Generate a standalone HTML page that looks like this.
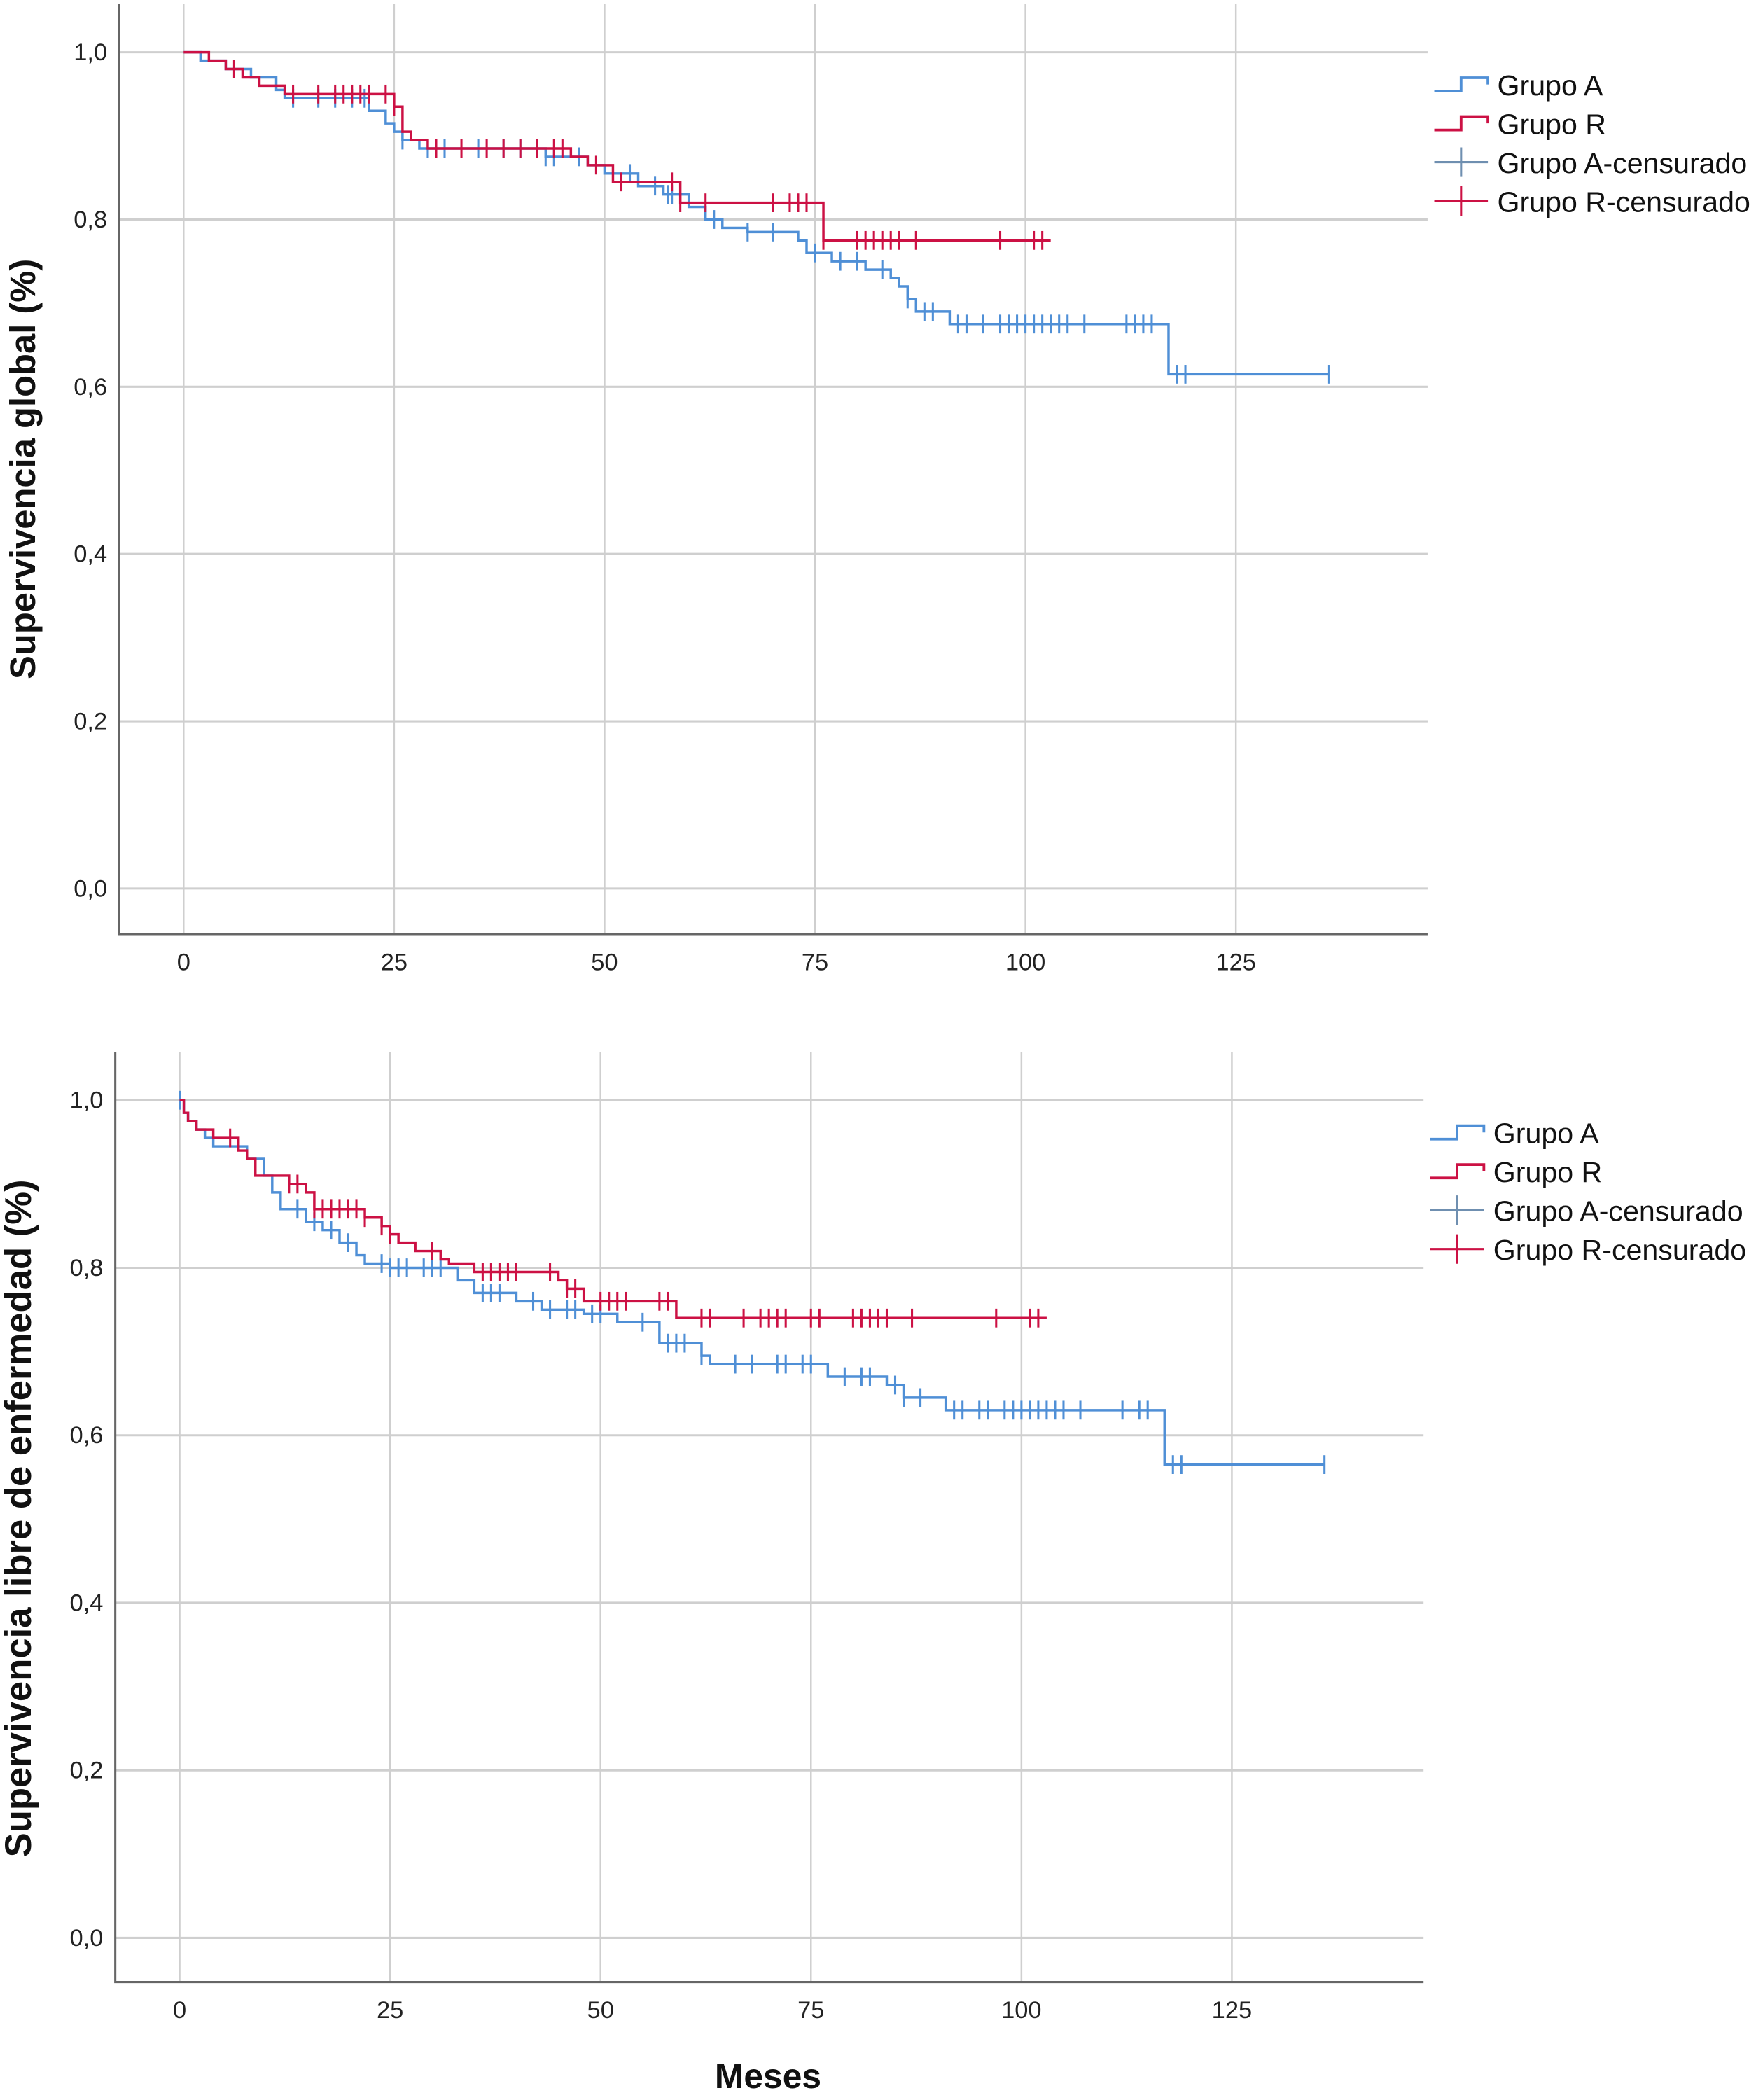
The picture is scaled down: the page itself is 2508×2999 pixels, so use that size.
<!DOCTYPE html>
<html><head><meta charset="utf-8"><style>
html,body{margin:0;padding:0;background:#fff;width:2508px;height:2999px;overflow:hidden}
svg{display:block}
text{font-family:"Liberation Sans",sans-serif}
</style></head><body>
<svg id="chart" width="2508" height="2999" viewBox="0 0 1310 1567" preserveAspectRatio="none" xmlns="http://www.w3.org/2000/svg"></svg>
<script>
// ---- Data: top panel (overall survival) ----
const xTicks = [0, 25, 50, 75, 100, 125];
const yTicks = [0, 0.2, 0.4, 0.6, 0.8, 1.0];
const yTickLabels = ["0,0", "0,2", "0,4", "0,6", "0,8", "1,0"];
const topA_t = [0, 2, 5, 8, 11, 12, 22, 24, 25, 26, 28, 43, 48, 50, 54, 57, 60, 62, 64, 67, 73, 74, 77, 81, 84, 85, 86, 87, 91, 117];
const topA_s = [1.0, 0.99, 0.98, 0.97, 0.955, 0.945, 0.93, 0.915, 0.905, 0.895, 0.885, 0.875, 0.865, 0.855, 0.84, 0.83, 0.815, 0.80, 0.79, 0.785, 0.775, 0.76, 0.75, 0.74, 0.73, 0.72, 0.705, 0.69, 0.675, 0.615];
const topA_end = 136;
const topA_cens = [13, 16, 18, 20, 21.5, 26, 29, 31, 35, 38, 40, 43, 44, 47, 53, 56, 57.5, 58, 63, 67, 70, 75, 78, 80, 83, 86, 88, 89, 92, 93, 95, 97, 98, 99, 100, 101, 102, 103, 104, 105, 107, 112, 113, 114, 115, 118, 119, 136];
const topR_t = [0, 3, 5, 7, 9, 12, 25, 26, 27, 29, 46, 48, 51, 59, 76];
const topR_s = [1.0, 0.99, 0.98, 0.97, 0.96, 0.95, 0.935, 0.905, 0.895, 0.885, 0.875, 0.865, 0.845, 0.82, 0.775];
const topR_end = 103;
const topR_cens = [6, 13, 16, 18, 19, 20, 21, 22, 24, 25, 30, 33, 36, 38, 40, 42, 44, 45, 49, 52, 58, 59, 62, 70, 72, 73, 74, 76, 80, 81, 82, 83, 84, 85, 87, 97, 101, 102];
// ---- Data: bottom panel (disease-free survival) ----
const botA_t = [0, 0.5, 1, 2, 3, 4, 8, 10, 11, 12, 15, 17, 19, 21, 22, 25, 33, 35, 40, 43, 48, 52, 57, 62, 63, 77, 84, 86, 91, 117];
const botA_s = [1.0, 0.985, 0.975, 0.965, 0.955, 0.945, 0.93, 0.91, 0.89, 0.87, 0.855, 0.845, 0.83, 0.815, 0.805, 0.80, 0.785, 0.77, 0.76, 0.75, 0.745, 0.735, 0.71, 0.695, 0.685, 0.67, 0.66, 0.645, 0.63, 0.565];
const botA_end = 136;
const botA_cens = [0, 14, 16, 18, 20, 24, 25, 26, 27, 29, 30, 31, 36, 37, 38, 42, 44, 46, 47, 49, 50, 55, 58, 59, 60, 62, 66, 68, 71, 72, 74, 75, 79, 81, 82, 85, 86, 88, 92, 93, 95, 96, 98, 99, 100, 101, 102, 103, 104, 105, 107, 112, 114, 115, 118, 119, 136];
const botR_t = [0, 0.5, 1, 2, 4, 7, 8, 9, 13, 15, 16, 22, 24, 25, 26, 28, 31, 32, 35, 45, 46, 48, 59];
const botR_s = [1.0, 0.985, 0.975, 0.965, 0.955, 0.94, 0.93, 0.91, 0.90, 0.89, 0.87, 0.86, 0.85, 0.84, 0.83, 0.82, 0.81, 0.805, 0.795, 0.785, 0.775, 0.76, 0.74];
const botR_end = 103;
const botR_cens = [6, 13, 14, 16, 17, 18, 19, 20, 21, 22, 24, 25, 30, 36, 37, 38, 39, 40, 44, 46, 47, 50, 51, 52, 53, 57, 58, 62, 63, 67, 69, 70, 71, 72, 75, 76, 80, 81, 82, 83, 84, 87, 97, 101, 102];

const NS = "http://www.w3.org/2000/svg";
const svg = document.getElementById("chart");
const BLUE = "#4f8fd6", RED = "#cc1144";

function mk(tag, attrs, parent) {
  const e = document.createElementNS(NS, tag);
  for (const k in attrs) e.setAttribute(k, attrs[k]);
  (parent || svg).appendChild(e);
  return e;
}

function stepAt(ts, ss, t) {
  let v = ss[0];
  for (let i = 0; i < ts.length; i++) if (ts[i] <= t) v = ss[i];
  return v;
}

function panel(cfg) {
  const g = mk("g", {});
  
  
  const X = t => cfg.x0 + t * (cfg.x125 - cfg.x0) / 125;
  const Y = s => cfg.y0 + (cfg.y1 - cfg.y0) * s;
  xTicks.forEach(t => {
    const l = mk("line", {x1: X(t), x2: X(t), y1: cfg.top, y2: cfg.bottom, stroke: "#cfcfcf", "stroke-width": 1.3}, g);
    
    
    const tx = mk("text", {x: X(t), y: cfg.bottom + 27, "font-size": 18, "text-anchor": "middle", fill: "#222"}, g);
    tx.textContent = String(t);
    
    
  });
  yTicks.forEach((v, i) => {
    const l = mk("line", {x1: cfg.axX, x2: cfg.right, y1: Y(v), y2: Y(v), stroke: "#cfcfcf", "stroke-width": 1.6}, g);
    
    
    const tx = mk("text", {x: cfg.axX - 9, y: Y(v) + 6, "font-size": 18, "text-anchor": "end", fill: "#222"}, g);
    tx.textContent = yTickLabels[i];
    
    
  });
  const ax = mk("path", {d: `M${cfg.axX},${cfg.top} V${cfg.bottom} H${cfg.right}`, fill: "none", stroke: "#666", "stroke-width": 1.6}, g);
  
  
  const yt = mk("text", {x: 0, y: 0, "font-size": cfg.ytSize, "font-weight": "bold", "text-anchor": "middle", fill: "#111",
    transform: `translate(${cfg.ytX},${cfg.ytY}) rotate(-90)`}, g);
  yt.textContent = cfg.ytitle;
  
  
  cfg.series.forEach(s => {
    let d = `M${X(s.t[0])},${Y(s.s[0])}`;
    for (let i = 1; i < s.t.length; i++) d += ` H${X(s.t[i])} V${Y(s.s[i])}`;
    d += ` H${X(s.end)}`;
    const p = mk("path", {d: d, fill: "none", stroke: s.color, "stroke-width": 1.8}, g);
    
    
    s.cens.forEach(c => {
      const cx = X(c), cy = Y(stepAt(s.t, s.s, c));
      const m = mk("path", {d: `M${cx},${cy - 7} V${cy + 7}`, stroke: s.color, "stroke-width": 1.6}, g);
      
      
    });
  });
  const lg = mk("g", {}, g);
  
  
  const items = [["Grupo A", "step", BLUE], ["Grupo R", "step", RED], ["Grupo A-censurado", "cross", "#6f8fb0"], ["Grupo R-censurado", "cross", RED]];
  items.forEach((it, i) => {
    const y = cfg.legY + i * 29;
    const lx = cfg.legX;
    let sw;
    if (it[1] === "step") sw = mk("path", {d: `M${lx},${y + 3} H${lx + 20} V${y - 7} H${lx + 40} V${y - 2}`, fill: "none", stroke: it[2], "stroke-width": 2}, lg);
    else sw = mk("path", {d: `M${lx},${y - 2} H${lx + 40} M${lx + 20},${y - 13} V${y + 9}`, fill: "none", stroke: it[2], "stroke-width": 1.6}, lg);
    
    
    const tx = mk("text", {x: lx + 47, y: y + 6, "font-size": 21.5, fill: "#111"}, lg);
    tx.textContent = it[0];
    
    
  });
}

panel({name: "overall-survival-chart", x0: 137, x125: 922, y0: 663, y1: 39, axX: 89, top: 3, bottom: 697, right: 1065,
  ytitle: "Supervivencia global (%)", ytX: 26, ytY: 350, ytSize: 26.5, legX: 1070, legY: 65,
  series: [
    {name: "group-a", t: topA_t, s: topA_s, end: topA_end, cens: topA_cens, color: BLUE},
    {name: "group-r", t: topR_t, s: topR_s, end: topR_end, cens: topR_cens, color: RED}
  ]});
panel({name: "disease-free-survival-chart", x0: 134, x125: 919, y0: 1446, y1: 821, axX: 86, top: 785, bottom: 1479, right: 1062,
  ytitle: "Supervivencia libre de enfermedad (%)", ytX: 23, ytY: 1133, ytSize: 27.5, legX: 1067, legY: 847,
  series: [
    {name: "group-a", t: botA_t, s: botA_s, end: botA_end, cens: botA_cens, color: BLUE},
    {name: "group-r", t: botR_t, s: botR_s, end: botR_end, cens: botR_cens, color: RED}
  ]});
const xt = mk("text", {x: 573, y: 1558, "font-size": 26, "font-weight": "bold", "text-anchor": "middle", fill: "#111"});
xt.textContent = "Meses";


</script>
</body></html>
